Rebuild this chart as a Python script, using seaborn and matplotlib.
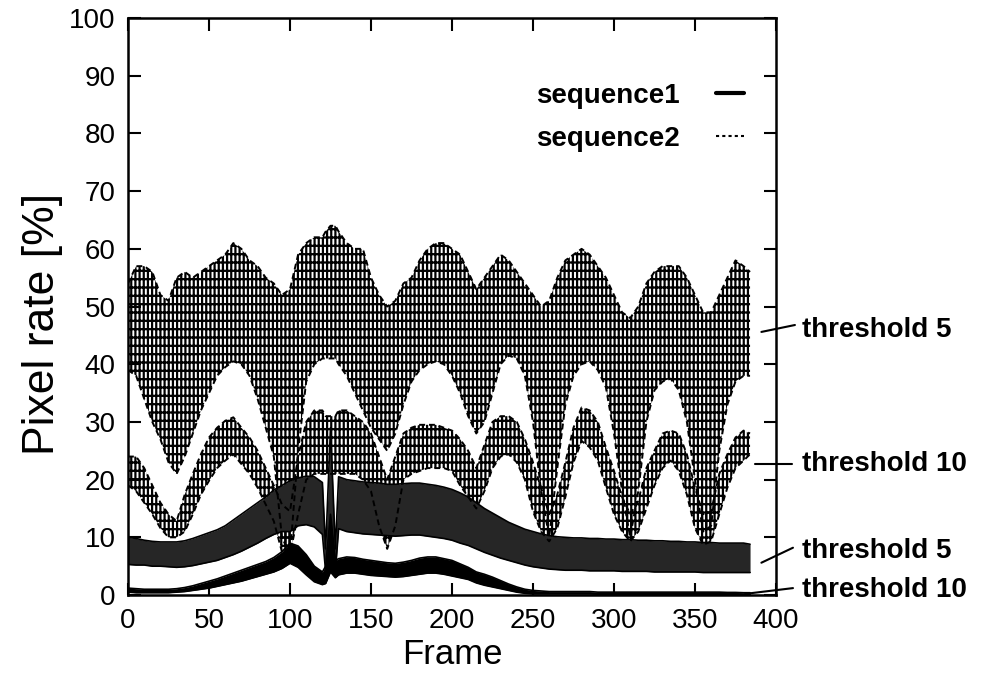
import pandas as pd
import seaborn as sns
import matplotlib.pyplot as plt
from matplotlib.lines import Line2D

frames = list(range(0, 121, 5)) + [122, 125, 128] + list(range(130, 381, 5)) + [384]

# sequence2, threshold 5 (upper dashed band)
s2_t5_hi = [54, 57, 57, 56, 52, 51, 55, 56, 55, 56,
            57, 58, 59, 61, 60, 58, 57, 55, 54, 52,
            53, 59, 61, 62, 62, 63, 64, 64, 63, 61,
            60, 60, 55, 52, 50, 51, 54, 55, 58, 60,
            61, 61, 60, 59, 56, 53, 55, 57, 59, 58,
            56, 54, 52, 50, 51, 55, 58, 59, 60, 59,
            57, 55, 52, 49, 48, 50, 54, 56, 57, 57,
            57, 55, 52, 49, 49, 52, 55, 58, 57, 56]
s2_t5_lo = [39, 38, 34, 30, 27, 23, 21, 24, 28, 32,
            35, 38, 39.5, 40.5, 40, 38, 34, 29, 24, 10,
            7, 25, 37, 40, 41, 41, 41, 41, 40, 38,
            35, 32, 29, 27, 25, 28, 33, 37, 39, 40,
            40.5, 40, 38, 35, 31, 28, 30, 35, 40, 41.5,
            41, 38, 30, 18, 10, 22, 33, 38, 40, 40.5,
            39, 36, 28, 18, 10, 18, 30, 35.5, 37, 37.5,
            35.5, 30, 20, 11, 12, 25, 33, 37, 38, 38]

# sequence2, threshold 10 (lower dashed band)
s2_t10_hi = [24, 24, 22, 19, 16, 14, 12.8, 17.4, 21, 24.4,
             27.3, 29, 30.2, 30.8, 29, 27.3, 25, 22, 19, 15.7,
             14.5, 24, 30, 32, 32, 31, 31, 31, 32, 32,
             31, 30, 28, 24, 20, 24, 28, 29, 29.5, 29.5,
             29.5, 29, 28.5, 27, 25, 22, 26, 30, 31, 31,
             30, 27, 23, 18.6, 14, 17.4, 23, 29, 32.5, 32,
             30, 25.6, 21.5, 17, 14, 16.3, 22, 25, 28, 28.5,
             28, 24.4, 18.6, 14, 14.5, 21, 24.4, 27.3, 28.5, 28]
s2_t10_lo = [19, 18, 16, 14, 11.6, 10, 10, 11, 14, 17.4,
             19.8, 22, 23.3, 24.4, 22.7, 21, 18.6, 15.7, 12.8, 7.5,
             7, 14, 20, 21, 21, 21, 21, 21, 21, 21,
             21, 20, 18, 12, 8, 12, 20, 21, 21.5, 22,
             22, 22, 21.5, 19, 17, 15, 18, 22, 24, 24.4,
             23, 20, 14.5, 11, 9.3, 11.6, 17, 23, 26.7, 25.6,
             23.3, 18.6, 14, 11, 9.3, 11, 15, 19, 22, 23.3,
             21.5, 17.4, 11.6, 8.7, 9.3, 14, 18.6, 22, 23.3, 24.4]

# sequence1, threshold 5 (dark solid band)
s1_t5_hi = [10, 9.8, 9.5, 9.3, 9.2, 9.2, 9.2, 9.4, 9.8, 10.3,
            10.8, 11.3, 12, 13, 14, 15, 16, 17, 18.2, 19,
            19.8, 20.3, 20.6, 20.5, 19.5, 8, 29, 8, 20.5, 20,
            19.8, 19.6, 19.5, 19.4, 19.2, 19.2, 19.3, 19.4, 19.4, 19.2,
            19, 18.7, 18.3, 17.7, 17, 16, 15, 14.2, 13.4, 12.6,
            12, 11.4, 11, 10.6, 10.3, 10.1, 10, 9.9, 9.9, 9.8,
            9.8, 9.7, 9.7, 9.6, 9.6, 9.5, 9.5, 9.4, 9.4, 9.3,
            9.3, 9.2, 9.2, 9.1, 9.1, 9.0, 9.0, 9.0, 9.0, 8.8]
s1_t5_lo = [5.3, 5.2, 5.2, 5, 5, 4.9, 4.8, 4.9, 5.1, 5.4,
            5.7, 6, 6.5, 7, 7.6, 8.3, 9, 9.8, 10.5, 11,
            11, 12, 12.2, 11.8, 10.5, 4, 9, 4, 11.5, 11,
            10.8, 10.6, 10.5, 10.4, 10.3, 10.2, 10.3, 10.4, 10.4, 10.2,
            10, 9.8, 9.5, 9, 8.6, 8, 7.4, 6.9, 6.4, 6,
            5.6, 5.2, 4.9, 4.7, 4.5, 4.4, 4.3, 4.3, 4.3, 4.2,
            4.2, 4.2, 4.2, 4.1, 4.1, 4.1, 4.1, 4.0, 4.0, 4.0,
            4.0, 4.0, 4.0, 3.9, 3.9, 3.9, 3.9, 3.9, 3.9, 3.9]

# sequence1, threshold 10 (thin solid band near zero)
s1_t10_hi = [1.2, 1.1, 1, 1, 1, 1, 1.1, 1.3, 1.6, 2,
             2.4, 2.8, 3.3, 3.8, 4.3, 4.8, 5.3, 5.8, 6.5, 7.5,
             9, 8.5, 7, 5, 4, 5, 14, 6, 6.3, 6.6,
             6.5, 6.2, 6, 5.8, 5.6, 5.5, 5.7, 6, 6.4, 6.6,
             6.6, 6.3, 6, 5.4, 4.8, 4, 3.6, 3.1, 2.5, 1.9,
             1.4, 1, 0.8, 0.7, 0.6, 0.6, 0.6, 0.6, 0.6, 0.6,
             0.5, 0.5, 0.5, 0.5, 0.5, 0.5, 0.5, 0.5, 0.5, 0.5,
             0.5, 0.5, 0.5, 0.5, 0.5, 0.5, 0.45, 0.45, 0.4, 0.4]
s1_t10_lo = [0.5, 0.4, 0.4, 0.4, 0.4, 0.4, 0.5, 0.6, 0.8, 1,
             1.2, 1.5, 1.8, 2.1, 2.4, 2.8, 3.2, 3.6, 4, 4.6,
             5.5, 4.8, 3.5, 2.3, 1.8, 2, 4, 3, 3.5, 3.8,
             3.8, 3.6, 3.4, 3.3, 3.2, 3.1, 3.2, 3.4, 3.6, 3.8,
             3.8, 3.6, 3.3, 3, 2.7, 2.1, 1.7, 1.4, 1.1, 0.8,
             0.5, 0.3, 0.2, 0.2, 0.2, 0.2, 0.2, 0.2, 0.2, 0.2,
             0.15, 0.15, 0.15, 0.15, 0.15, 0.15, 0.15, 0.15, 0.15, 0.15,
             0.1, 0.1, 0.1, 0.1, 0.1, 0.1, 0.1, 0.1, 0.1, 0.1]

xticks = [0, 50, 100, 150, 200, 250, 300, 350, 400]
yticks = [0, 10, 20, 30, 40, 50, 60, 70, 80, 90, 100]

df = pd.DataFrame({"frame": frames,
                   "s2_t5_hi": s2_t5_hi, "s2_t5_lo": s2_t5_lo,
                   "s2_t10_hi": s2_t10_hi, "s2_t10_lo": s2_t10_lo,
                   "s1_t5_hi": s1_t5_hi, "s1_t5_lo": s1_t5_lo,
                   "s1_t10_hi": s1_t10_hi, "s1_t10_lo": s1_t10_lo})

sns.set_style("ticks")
plt.rcParams['font.family'] = ['Liberation Sans', 'DejaVu Sans']
plt.rcParams['hatch.linewidth'] = 1.6
plt.rcParams['hatch.color'] = 'black'
plt.rcParams['text.color'] = 'black'
plt.rcParams['axes.labelcolor'] = 'black'
plt.rcParams['xtick.color'] = 'black'
plt.rcParams['ytick.color'] = 'black'

fig = plt.figure(figsize=(9.81, 6.97), dpi=100)
ax = fig.add_axes([0.1305, 0.1463, 0.6605, 0.8278])

# sequence2 bands: dense dashed texture
for lo, hi in [("s2_t5_lo", "s2_t5_hi"), ("s2_t10_lo", "s2_t10_hi")]:
    ax.fill_between(df["frame"], df[lo], df[hi], facecolor="none",
                    edgecolor="black", hatch="||||--", linewidth=0)
s2_edges = df.melt(id_vars="frame",
                   value_vars=["s2_t5_hi", "s2_t5_lo", "s2_t10_hi", "s2_t10_lo"],
                   var_name="edge", value_name="rate")
sns.lineplot(data=s2_edges, x="frame", y="rate", units="edge", estimator=None,
             color="black", lw=1.4, linestyle=(0, (3, 2)), ax=ax)

# sequence1 bands: solid
ax.fill_between(df["frame"], df["s1_t5_lo"], df["s1_t5_hi"], color="#262626", linewidth=0)
ax.fill_between(df["frame"], df["s1_t10_lo"], df["s1_t10_hi"], color="black", linewidth=0)
s1_edges = df.melt(id_vars="frame",
                   value_vars=["s1_t5_hi", "s1_t5_lo", "s1_t10_hi", "s1_t10_lo"],
                   var_name="edge", value_name="rate")
sns.lineplot(data=s1_edges, x="frame", y="rate", units="edge", estimator=None,
             color="black", lw=1.2, ax=ax)

ax.set_xlim(0, 400)
ax.set_ylim(0, 100)
ax.set_xticks(xticks)
ax.set_yticks(yticks)
ax.tick_params(direction="in", length=9, width=1.5, top=True, right=True,
               labelsize=20, pad=9)
for sp in ax.spines.values():
    sp.set_linewidth(1.8)
    sp.set_color("black")

ax.set_xlabel("Frame", fontsize=25)
ax.set_ylabel("Pixel rate [%]", fontsize=32)
ax.xaxis.set_label_coords(0.5, -0.075)
ax.yaxis.set_label_coords(-0.1, 0.47)

handles = [Line2D([], [], color="black", lw=3),
           Line2D([], [], color="black", lw=1.5, linestyle=(0, (1.5, 1.5)))]
ax.legend(handles, ["sequence1", "sequence2"], loc="upper right",
          bbox_to_anchor=(0.972, 0.912), frameon=False, markerfirst=False,
          prop={"weight": "bold", "size": 20}, handlelength=1.0,
          handletextpad=1.3, labelspacing=0.62, borderpad=0)

# labels on the right with short pointer lines
pointers = [([391, 411.7], [45.6, 46.8], 45.9, "threshold 5"),
            ([387, 410], [22.7, 22.7], 22.7, "threshold 10"),
            ([391, 410.5], [5.6, 8.2], 7.6, "threshold 5"),
            ([381, 410.5], [0.2, 1.2], 0.9, "threshold 10")]
for px, py, ty, txt in pointers:
    ax.plot(px, py, color="black", lw=1.5, clip_on=False)
    ax.text(416, ty, txt, fontsize=20, fontweight="bold", ha="left", va="center",
            clip_on=False)

fig.savefig("out.png", dpi=100)
